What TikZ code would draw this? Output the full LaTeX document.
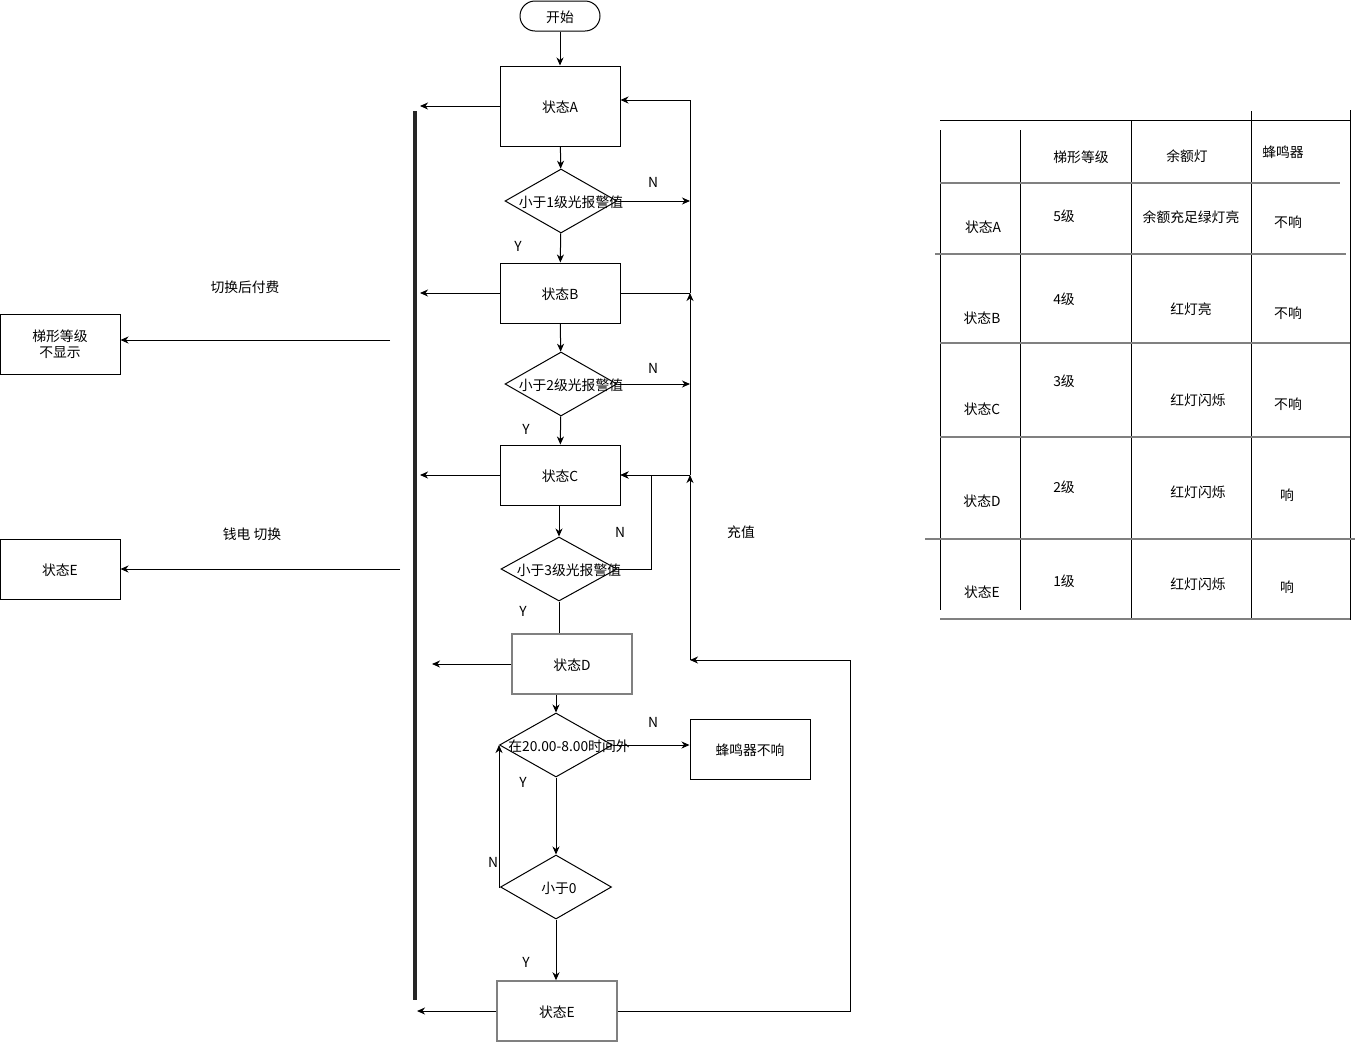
\documentclass[tikz,border=0pt]{standalone}
\usepackage{fontspec}
\setmainfont{Noto Sans CJK SC}
\usetikzlibrary{arrows.meta,shapes.geometric}
\definecolor{grayline}{RGB}{128,128,128}

\begin{document}
\begin{tikzpicture}[x=1pt,y=-1pt,>={Stealth[length=8pt,width=7pt,inset=2.5pt]},font=\fontsize{13.8}{16}\selectfont,
  every node/.append style={text height=1.3em, text depth=0.1em}]

\tikzstyle{sq} = [rectangle, minimum width=120pt, minimum height=60pt, text centered, draw=black, line width=1pt]
\tikzstyle{sqg} = [sq, draw=grayline, line width=1.5pt]
\tikzstyle{ter} = [rectangle, rounded corners=15pt, minimum width=80pt, minimum height=30pt, text centered, draw=black, line width=1pt]
\tikzstyle{dia} = [diamond, minimum width=112pt, minimum height=64pt, inner sep=0pt, draw=black, line width=1pt]
\tikzstyle{dlab} = [xshift=10pt, inner sep=0pt]
\tikzstyle{ln} = [line width=1pt]
\tikzstyle{arr} = [->, line width=1pt]
\tikzstyle{tv} = [line width=1pt, black]
\tikzstyle{th} = [line width=1.4pt, grayline]

\useasboundingbox (0,0) rectangle (1357,1042);

% flow
\node (start) [ter] at (560,16) {开始};
\node (A) [sq, minimum height=80pt] at (560,106) {状态A};
\node (q1) [dia, label={[dlab]center:小于1级光报警值}] at (561,201) {};
\node (B) [sq] at (560,293) {状态B};
\node (q2) [dia, label={[dlab]center:小于2级光报警值}] at (561,384) {};
\node (C) [sq] at (560,475) {状态C};
\node (q3) [dia, minimum width=116pt, label={[dlab]center:小于3级光报警值}] at (559,569) {};
\node (D) [sqg] at (572,664) {状态D};
\node (q4) [dia, minimum width=113pt, label={[dlab, xshift=3pt]center:在20.00-8.00时间外}] at (556,745) {};
\node (q5) [dia, minimum width=111pt, label={[dlab, xshift=-7pt]center:小于0}] at (556,887) {};
\node (E) [sqg] at (557,1011) {状态E};
\node (bz) [sq] at (750,749) {蜂鸣器不响};

\node (n1) at (653,181) {N};
\node (y1) at (518,245) {Y};
\node (n2) at (653,367) {N};
\node (y2) at (526,428) {Y};
\node (n3) at (620,531) {N};
\node (y3) at (523,610) {Y};
\node (n4) at (653,721) {N};
\node (y4) at (523,781) {Y};
\node (n5) at (493,861) {N};
\node (y5) at (526,961) {Y};
\node (chz) at (741,531) {充值};

\coordinate (r1) at (690,201);
\coordinate (r2) at (690,384);
\coordinate (rtop) at (690,100);
\coordinate (rB) at (690,293);
\coordinate (rC) at (690,475);
\coordinate (rD) at (690,660);
\coordinate (rE) at (850,660);
\coordinate (k3) at (651,475);

\draw[arr] (start) -- (A);
\draw[arr] (A) -- (q1);
\draw[arr] (q1) -- (B);
\draw[arr] (B) -- (q2);
\draw[arr] (q2) -- (C);
\draw[arr] (C.south -| q3.north) -- (q3.north);
\draw[ln] (q3.south) -- (q3.south |- D.north);
\draw[arr] (q4.north |- D.south) -- (q4.north);
\draw[arr] (q4.south) -- (q5.north);
\draw[arr] (q5.south) -- (q5.south |- E.north);
\draw[arr] (q1.east) -- (r1);
\draw[arr] (q2.east) -- (r2);
\draw[arr] (q3.east) -| (k3) -- (C.east);
\draw[arr] (q4.east) -- (q4.east -| bz.west);
\draw[arr] (q5.west) -| (q4.west);
\draw[arr] (E.east) -| (rE) -- (rD);
\draw[arr] (rD) -- (rC);
\draw[arr] (rC) -- (rB);
\draw[arr] (rB) -- (rtop) -- (rtop -| A.east);
\draw[arr] (rC) -- (C.east);
\draw[ln] (B.east) -- (rB);

% left side
\coordinate (bar) at (420,0);
\coordinate (barD) at (432,0);
\coordinate (barE) at (417,0);
\coordinate (bartop) at (415,111);
\coordinate (barbot) at (415,1000);
\draw[line width=4pt, black!85] (bartop) -- (barbot);
\draw[arr] (A.west) -- (A.west -| bar);
\draw[arr] (B.west) -- (B.west -| bar);
\draw[arr] (C.west) -- (C.west -| bar);
\draw[arr] (D.west) -- (D.west -| barD);
\draw[arr] (E.west) -- (E.west -| barE);

\node (hide) [sq, align=center, text height=, text depth=] at (60,344) {梯形等级\\不显示};
\node (E2) [sq] at (60,569) {状态E};
\node (t1) at (245,286) {切换后付费};
\node (t2) at (252,533) {钱电 切换};
\coordinate (s1) at (390,340);
\coordinate (s2) at (400,569);
\draw[arr] (s1) -- (s1 -| hide.east);
\draw[arr] (s2) -- (E2.east);

% table
\draw[tv] (940,130) -- (940,610);
\draw[tv] (1020,130) -- (1020,610);
\draw[tv] (1131,120) -- (1131,620);
\draw[tv] (1251,111) -- (1251,620);
\draw[tv] (1350,110) -- (1350,620);
\draw[tv] (940,120) -- (1350,120);
\draw[th] (940,183) -- (1340,183);
\draw[th] (935,254) -- (1346,254);
\draw[th] (940,343) -- (1350,343);
\draw[th] (940,437) -- (1350,437);
\draw[th] (925,539) -- (1355,539);
\draw[th] (940,619) -- (1350,619);

\node (h1) at (1081,156) {梯形等级};
\node (h2) at (1187,155) {余额灯};
\node (h3) at (1283,151) {蜂鸣器};
\node (a0) at (983,226) {状态A};
\node (a1) at (1064,215) {5级};
\node (a2) at (1191,216) {余额充足绿灯亮};
\node (a3) at (1288,221) {不响};
\node (b0) at (982,317) {状态B};
\node (b1) at (1064,298) {4级};
\node (b2) at (1191,308) {红灯亮};
\node (b3) at (1288,312) {不响};
\node (c0) at (982,408) {状态C};
\node (c1) at (1064,380) {3级};
\node (c2) at (1198,399) {红灯闪烁};
\node (c3) at (1288,403) {不响};
\node (d0) at (982,500) {状态D};
\node (d1) at (1064,486) {2级};
\node (d2) at (1198,491) {红灯闪烁};
\node (d3) at (1287,494) {响};
\node (e0) at (982,591) {状态E};
\node (e1) at (1064,580) {1级};
\node (e2) at (1198,583) {红灯闪烁};
\node (e3) at (1287,586) {响};
\end{tikzpicture}
\end{document}
